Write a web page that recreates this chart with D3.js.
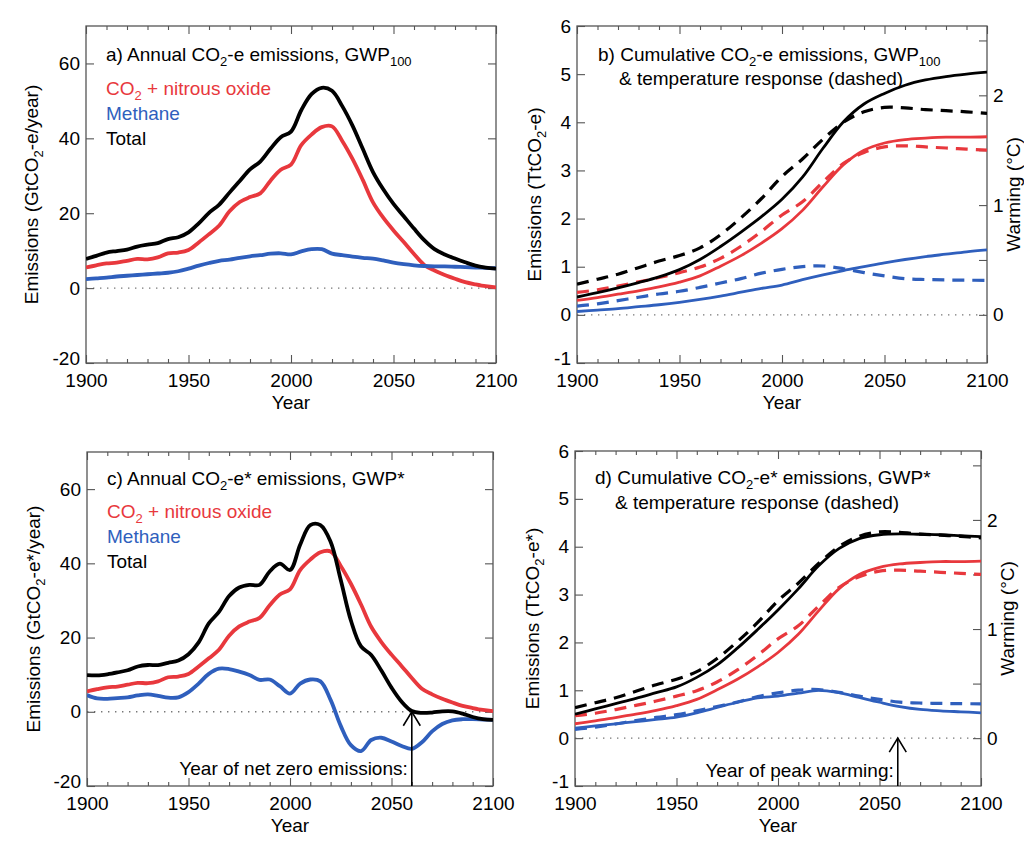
<!DOCTYPE html>
<html><head><meta charset="utf-8">
<script src="https://cdn.jsdelivr.net/npm/d3@7"></script>
<style>
body{margin:0;background:#fff;}
svg{display:block;}
text{font-family:"Liberation Sans", Arial, Helvetica, sans-serif;fill:#000;}
</style></head><body>
<svg id="chart" width="1024" height="853"></svg>
<script>
// ---------------- DATA ----------------
const years5 = [1900,1905,1910,1915,1920,1925,1930,1935,1940,1945,1950,1955,1960,1965,1970,1975,1980,1985,1990,1995,2000,2005,2010,2015,2020,2025,2030,2035,2040,2045,2050,2055,2060,2065,2070,2075,2080,2085,2090,2095,2100];
const years10 = [1900,1910,1920,1930,1940,1950,1960,1970,1980,1990,2000,2010,2020,2030,2040,2050,2060,2070,2080,2090,2100];

// Annual emissions (GtCO2-e/year)
const co2n2oAnnual      = [5.5,6.1,6.6,6.8,7.3,7.8,7.7,8.2,9.3,9.5,10.2,12.2,14.4,16.7,20.5,23.0,24.3,25.3,28.7,31.6,33.0,38.2,41.0,43.0,43.2,39.3,34.5,28.9,22.9,18.8,15.4,12.3,9.1,6.2,4.7,3.5,2.5,1.6,1.0,0.5,0.2];
const ch4Gwp100Annual   = [2.4,2.6,2.8,3.1,3.3,3.5,3.7,3.9,4.1,4.5,5.2,6.0,6.7,7.3,7.6,8.1,8.5,8.8,9.2,9.3,9.0,9.8,10.4,10.4,9.2,8.8,8.4,8.1,7.9,7.4,6.8,6.4,6.1,5.9,5.8,5.8,5.7,5.6,5.5,5.4,5.3];
const totalGwp100Annual = [7.8,8.6,9.5,9.9,10.3,11.1,11.6,12.0,13.1,13.6,14.9,17.3,20.1,22.3,25.5,28.6,31.7,33.8,37.2,40.3,41.8,47.5,51.8,53.5,52.7,48.6,43.4,37.2,31.0,26.4,22.5,19.2,15.9,12.8,10.4,9.0,7.9,6.9,6.0,5.5,5.2];
const ch4GwpStarAnnual  = [4.5,3.6,3.5,3.7,3.9,4.4,4.7,4.3,3.8,3.9,5.3,7.6,10.2,11.6,11.5,10.8,9.9,8.6,8.7,6.9,4.9,7.6,8.7,8.2,3.2,-3.8,-9.0,-10.6,-7.6,-7.0,-8.0,-9.2,-10.0,-8.2,-5.3,-3.3,-2.3,-2.0,-2.0,-2.1,-2.2];
const totalGwpStarAnnual= [9.9,9.8,10.1,10.6,11.2,12.2,12.6,12.6,13.2,13.8,15.5,18.7,23.8,26.9,31.2,33.5,34.2,34.2,37.8,39.9,38.2,45.0,50.3,50.3,45.8,35.5,24.6,17.6,15.3,11.1,6.5,2.7,0.2,-0.3,-0.2,0.1,0.1,-0.5,-1.4,-2.0,-2.2];

// Cumulative emissions (TtCO2-e)
const co2n2oCumulative      = [0.30,0.36,0.43,0.50,0.58,0.68,0.81,1.01,1.23,1.49,1.79,2.17,2.66,3.12,3.42,3.57,3.64,3.67,3.69,3.69,3.70];
const ch4Gwp100Cumulative   = [0.07,0.10,0.13,0.17,0.21,0.26,0.32,0.39,0.47,0.55,0.62,0.73,0.83,0.92,1.00,1.08,1.15,1.21,1.26,1.31,1.35];
const totalGwp100Cumulative = [0.37,0.46,0.56,0.67,0.79,0.94,1.15,1.42,1.72,2.04,2.40,2.86,3.46,4.01,4.38,4.60,4.77,4.88,4.95,5.00,5.04];
const ch4GwpStarCumulative  = [0.21,0.255,0.30,0.345,0.39,0.44,0.53,0.64,0.75,0.84,0.88,0.94,1.00,0.95,0.85,0.75,0.66,0.60,0.57,0.55,0.53];
const totalGwpStarCumulative= [0.50,0.61,0.72,0.83,0.95,1.07,1.27,1.53,1.88,2.27,2.68,3.12,3.60,3.96,4.17,4.25,4.27,4.26,4.25,4.23,4.21];

// Temperature response (°C)
const warmingCo2n2o = [0.205,0.228,0.262,0.30,0.34,0.385,0.435,0.515,0.625,0.76,0.91,1.03,1.21,1.38,1.48,1.53,1.54,1.53,1.52,1.51,1.50];
const warmingCh4    = [0.08,0.10,0.13,0.16,0.19,0.215,0.25,0.29,0.33,0.38,0.415,0.44,0.445,0.42,0.385,0.355,0.33,0.322,0.318,0.316,0.314];
const warmingTotal  = [0.28,0.325,0.37,0.43,0.49,0.54,0.61,0.73,0.885,1.06,1.26,1.42,1.60,1.755,1.85,1.89,1.885,1.87,1.86,1.85,1.835];

// Ticks / labels
const xMajorTicks = [1900,1950,2000,2050,2100];
const xTickLabels = ["1900","1950","2000","2050","2100"];
const xMinorTicks = [1910,1920,1930,1940,1960,1970,1980,1990,2010,2020,2030,2040,2060,2070,2080,2090];
const annualYTicks = [-20,0,20,40,60];
const annualYLabels = ["-20","0","20","40","60"];
const cumYTicks = [-1,0,1,2,3,4,5,6];
const cumYLabels = ["-1","0","1","2","3","4","5","6"];
const warmTicks = [0,0.5,1,1.5,2,2.5];
const warmLabels = ["0","","1","","2",""];
const legendNames = ["CO|2| + nitrous oxide","Methane","Total"];
const netZeroYear = 2060;
const peakWarmingYear = 2059;

// ---------------- STYLE ----------------
const RED = "#e8383d", BLUE = "#2f5fbd", BLACK = "#000";
const FS = 19;
const ttPerDegree = 2.28; // TtCO2-e per °C (alignment of right axis)

const svg = d3.select("#chart");

// text with "|sub|" segments
function rich(sel, str, subSize) {
  const parts = str.split("|");
  let prevSub = false;
  parts.forEach((p, i) => {
    if (p === "") return;
    const isSub = i % 2 === 1;
    const ts = sel.append("tspan").text(p);
    if (isSub) ts.attr("font-size", subSize || 13).attr("dy", 5);
    else if (prevSub) ts.attr("dy", -5);
    prevSub = isSub;
  });
  return sel;
}
function addText(x, y, str, opts = {}) {
  const t = svg.append("text").attr("x", x).attr("y", y).attr("font-size", FS)
    .attr("text-anchor", opts.anchor || "start");
  if (opts.fill) t.style("fill", opts.fill);
  if (opts.rotate) t.attr("transform", `rotate(-90,${x},${y})`);
  rich(t, str);
  return t;
}

function styleAxis(g) {
  g.select(".domain").remove();
  g.selectAll(".tick line").attr("stroke", "#555").attr("stroke-width", 1.1);
  g.selectAll(".tick text").attr("font-size", FS).attr("font-family", '"Liberation Sans", Arial, sans-serif').style("fill", "#000");
}

function panel(cfg) {
  const x = d3.scaleLinear().domain([1900, 2100]).range([cfg.left, cfg.right]);
  const y = d3.scaleLinear().domain(cfg.yDomain).range([cfg.bottom, cfg.top]);
  const g = svg.append("g");
  const clipId = "clip-" + cfg.id;
  svg.append("clipPath").attr("id", clipId).append("rect")
    .attr("x", cfg.left).attr("y", cfg.top)
    .attr("width", cfg.right - cfg.left).attr("height", cfg.bottom - cfg.top);

  // zero line
  g.append("line").attr("x1", cfg.left).attr("x2", cfg.right)
    .attr("y1", y(0)).attr("y2", y(0))
    .attr("stroke", "#777").attr("stroke-width", 1.4).attr("stroke-dasharray", "1.4,5.6");

  // x axes
  g.append("g").attr("transform", `translate(0,${cfg.bottom})`)
    .call(d3.axisBottom(x).tickValues(xMajorTicks).tickSize(-8).tickPadding(11)
      .tickFormat((d, i) => xTickLabels[i])).call(styleAxis);
  g.append("g").attr("transform", `translate(0,${cfg.bottom})`)
    .call(d3.axisBottom(x).tickValues(xMinorTicks).tickSize(-4).tickFormat("")).call(styleAxis);
  g.append("g").attr("transform", `translate(0,${cfg.top})`)
    .call(d3.axisTop(x).tickValues(xMajorTicks).tickSize(-8).tickFormat("")).call(styleAxis);
  g.append("g").attr("transform", `translate(0,${cfg.top})`)
    .call(d3.axisTop(x).tickValues(xMinorTicks).tickSize(-4).tickFormat("")).call(styleAxis);

  // y axes
  const yl = g.append("g").attr("transform", `translate(${cfg.left},0)`)
    .call(d3.axisLeft(y).tickValues(cfg.yTicks).tickSize(-8).tickPadding(6)
      .tickFormat((d, i) => cfg.yLabels[i])).call(styleAxis);
  // lowest label sits slightly above the bottom frame, as in the original
  yl.selectAll(".tick text").filter(d => d === cfg.yTicks[0]).attr("dy", "0.1em");

  let yT = null;
  if (cfg.warming) {
    yT = d3.scaleLinear().domain([cfg.yDomain[0] / ttPerDegree, cfg.yDomain[1] / ttPerDegree])
      .range([cfg.bottom, cfg.top]);
    g.append("g").attr("transform", `translate(${cfg.right},0)`)
      .call(d3.axisRight(yT).tickValues(warmTicks).tickSize(-8).tickPadding(6)
        .tickFormat((d, i) => warmLabels[i])).call(styleAxis);
  } else {
    g.append("g").attr("transform", `translate(${cfg.right},0)`)
      .call(d3.axisRight(y).tickValues(cfg.yTicks).tickSize(-8).tickFormat("")).call(styleAxis);
  }

  // frame
  g.append("rect").attr("x", cfg.left).attr("y", cfg.top)
    .attr("width", cfg.right - cfg.left).attr("height", cfg.bottom - cfg.top)
    .attr("fill", "none").attr("stroke", "#555").attr("stroke-width", 1.3);

  // series
  const lines = g.append("g").attr("clip-path", `url(#${clipId})`);
  cfg.series.forEach(s => {
    const sc = s.warming ? yT : y;
    const line = d3.line().x((d, i) => x(s.years[i])).y(d => sc(d))
      .curve(d3.curveCatmullRom.alpha(0.5));
    lines.append("path").datum(s.values).attr("d", line)
      .attr("fill", "none").attr("stroke", s.color)
      .attr("stroke-width", s.width).attr("stroke-linejoin", "round").attr("stroke-linecap", "butt")
      .attr("stroke-dasharray", s.dash || null);
  });

  // labels
  addText((cfg.left + cfg.right) / 2, cfg.bottom + 46, "Year", { anchor: "middle" });
  addText(cfg.yTitleX, (cfg.top + cfg.bottom) / 2, cfg.yTitle, { anchor: "middle", rotate: true });
  if (cfg.warming) addText(cfg.right + 33, (cfg.top + cfg.bottom) / 2, "Warming (°C)", { anchor: "middle", rotate: true });
  cfg.titles.forEach(t => addText(t.x, t.y, t.s));

  if (cfg.legend) {
    const cols = [RED, BLUE, BLACK];
    legendNames.forEach((n, i) => addText(cfg.left + 20, cfg.legendY + i * 25, n, { fill: cols[i] }));
  }

  if (cfg.arrow) {
    const ax = x(cfg.arrow.year), ay = y(0);
    g.append("line").attr("x1", ax).attr("x2", ax).attr("y1", cfg.bottom).attr("y2", ay)
      .attr("stroke", "#000").attr("stroke-width", 1.6);
    g.append("path").attr("d", `M${ax - 8.5},${ay + 14}L${ax},${ay}L${ax + 8.5},${ay + 14}`)
      .attr("fill", "none").attr("stroke", "#000").attr("stroke-width", 1.6);
    addText(ax - 4, cfg.arrow.textY, cfg.arrow.text, { anchor: "end" });
  }
}

// Panel a
panel({
  id: "a", left: 86, right: 496, top: 26, bottom: 363, yDomain: [-20, 70],
  yTicks: annualYTicks, yLabels: annualYLabels, yTitle: "Emissions (GtCO|2|-e/year)", yTitleX: 38,
  titles: [{ x: 106, y: 61, s: "a) Annual CO|2|-e emissions, GWP|100|" }],
  legend: true, legendY: 94.5,
  series: [
    { years: years5, values: co2n2oAnnual, color: RED, width: 3.8 },
    { years: years5, values: ch4Gwp100Annual, color: BLUE, width: 3.8 },
    { years: years5, values: totalGwp100Annual, color: BLACK, width: 3.8 }
  ]
});

// Panel b
panel({
  id: "b", left: 577, right: 987, top: 26, bottom: 363, yDomain: [-1, 6],
  yTicks: cumYTicks, yLabels: cumYLabels, yTitle: "Emissions (TtCO|2|-e)", yTitleX: 541, warming: true,
  titles: [{ x: 598, y: 61, s: "b) Cumulative CO|2|-e emissions, GWP|100|" },
           { x: 619, y: 85, s: "& temperature response (dashed)" }],
  series: [
    { years: years10, values: warmingCh4, warming: true, color: BLUE, width: 3.2, dash: "12,8" },
    { years: years10, values: ch4Gwp100Cumulative, color: BLUE, width: 2.8 },
    { years: years10, values: warmingCo2n2o, warming: true, color: RED, width: 3.2, dash: "12,8" },
    { years: years10, values: co2n2oCumulative, color: RED, width: 2.8 },
    { years: years10, values: warmingTotal, warming: true, color: BLACK, width: 3.2, dash: "12,8" },
    { years: years10, values: totalGwp100Cumulative, color: BLACK, width: 2.8 }
  ]
});

// Panel c
panel({
  id: "c", left: 87, right: 493, top: 452, bottom: 786, yDomain: [-20, 70],
  yTicks: annualYTicks, yLabels: annualYLabels, yTitle: "Emissions (GtCO|2|-e*/year)", yTitleX: 40,
  titles: [{ x: 107, y: 485, s: "c) Annual CO|2|-e* emissions, GWP*" }],
  legend: true, legendY: 518,
  arrow: { year: netZeroYear, text: "Year of net zero emissions:", textY: 775 },
  series: [
    { years: years5, values: co2n2oAnnual, color: RED, width: 3.8 },
    { years: years5, values: ch4GwpStarAnnual, color: BLUE, width: 3.8 },
    { years: years5, values: totalGwpStarAnnual, color: BLACK, width: 3.8 }
  ]
});

// Panel d
panel({
  id: "d", left: 575, right: 981, top: 451, bottom: 786, yDomain: [-1, 6],
  yTicks: cumYTicks, yLabels: cumYLabels, yTitle: "Emissions (TtCO|2|-e*)", yTitleX: 539, warming: true,
  titles: [{ x: 595, y: 484, s: "d) Cumulative CO|2|-e* emissions, GWP*" },
           { x: 615, y: 509, s: "& temperature response (dashed)" }],
  arrow: { year: peakWarmingYear, text: "Year of peak warming:", textY: 777 },
  series: [
    { years: years10, values: warmingCh4, warming: true, color: BLUE, width: 3.2, dash: "12,8" },
    { years: years10, values: ch4GwpStarCumulative, color: BLUE, width: 2.8 },
    { years: years10, values: warmingCo2n2o, warming: true, color: RED, width: 3.2, dash: "12,8" },
    { years: years10, values: co2n2oCumulative, color: RED, width: 2.8 },
    { years: years10, values: warmingTotal, warming: true, color: BLACK, width: 3.2, dash: "12,8" },
    { years: years10, values: totalGwpStarCumulative, color: BLACK, width: 2.8 }
  ]
});
</script>
</body></html>
